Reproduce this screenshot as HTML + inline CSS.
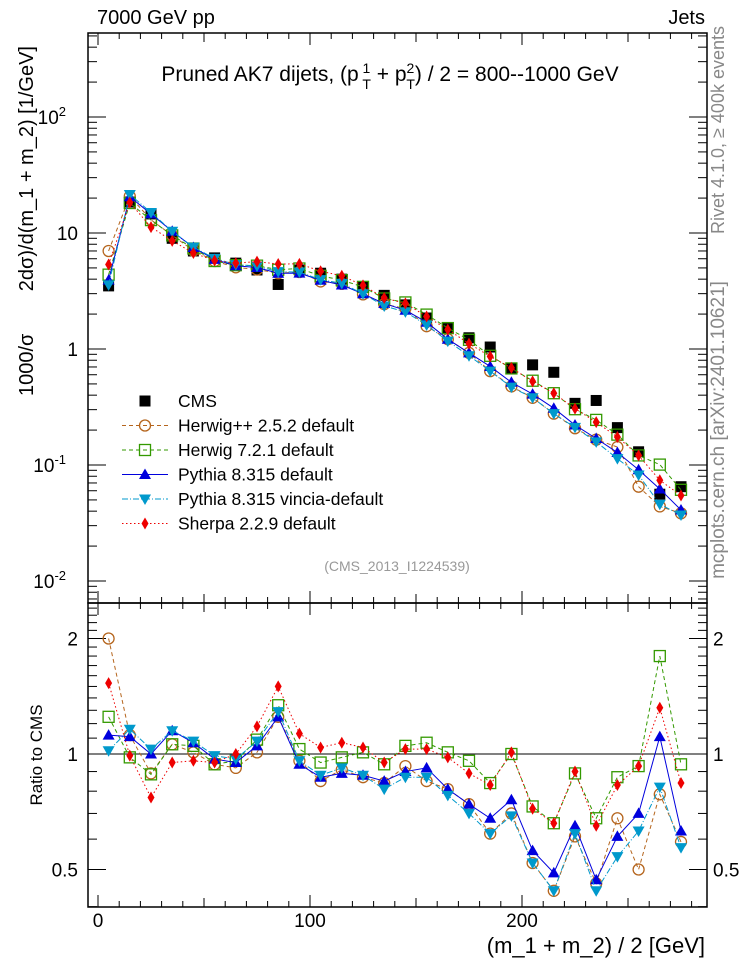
<!DOCTYPE html>
<html><head><meta charset="utf-8"><style>
body{margin:0;background:#fff;}
svg{display:block;font-family:"Liberation Sans",sans-serif;}
</style></head><body>
<svg id="c" width="746" height="972" viewBox="0 0 746 972">
<rect x="0" y="0" width="746" height="972" fill="#fff"/>
<text x="97" y="24" font-size="20">7000 GeV pp</text>
<text x="705" y="24" font-size="20" text-anchor="end">Jets</text>
<text x="390" y="81" font-size="21" text-anchor="middle">Pruned AK7 dijets, (p<tspan dy="-8" font-size="14"> 1</tspan><tspan dy="16" dx="-8" font-size="14">T</tspan><tspan dy="-8"> + p</tspan><tspan dy="-8" font-size="14">2</tspan><tspan dy="16" dx="-8" font-size="14">T</tspan><tspan dy="-8">) / 2 = 800--1000 GeV</tspan></text>
<g>
<text transform="translate(33,396) rotate(-90)" font-size="20" text-anchor="start">1000/σ</text>
<text transform="translate(33,46) rotate(-90)" font-size="20" text-anchor="end">2dσ)/d(m_1 + m_2) [1/GeV]</text>
</g>
<text transform="translate(42,755) rotate(-90)" font-size="17" text-anchor="middle">Ratio to CMS</text>
<text transform="translate(724,130) rotate(-90)" font-size="18" fill="#888" text-anchor="middle">Rivet 4.1.0, ≥ 400k events</text>
<text transform="translate(724,430) rotate(-90)" font-size="19" fill="#888" text-anchor="middle">mcplots.cern.ch [arXiv:2401.10621]</text>
<text x="397" y="571" font-size="14" fill="#999" text-anchor="middle">(CMS_2013_I1224539)</text>
<text x="705" y="953" font-size="22" text-anchor="end">(m_1 + m_2) / 2 [GeV]</text>
<g id="g"></g>
</svg>
<script>
const bins=[5,15,25,35,45,55,65,75,85,95,105,115,125,135,145,155,165,175,185,195,205,215,225,235,245,255,265,275];
const cms=[3.5,18.5,14.6,9.0,7.0,6.1,5.5,4.8,3.6,4.8,4.5,4.0,3.4,2.9,2.4,1.85,1.5,1.25,1.04,0.68,0.73,0.63,0.34,0.36,0.21,0.13,0.056,0.065];
const rHpp=[2.0,1.12,0.89,1.06,1.01,0.94,0.92,1.01,1.25,0.96,0.85,0.91,0.87,0.84,0.93,0.85,0.81,0.74,0.62,0.70,0.52,0.44,0.61,0.46,0.68,0.50,0.785,0.59];
const rH7=[1.25,0.98,0.885,1.06,1.05,0.94,0.96,1.09,1.34,1.03,0.95,0.98,1.01,0.94,1.05,1.07,1.01,0.96,0.84,1.0,0.73,0.66,0.89,0.68,0.87,0.93,1.8,0.94];
const rPy=[1.12,1.11,1.0,1.15,1.07,0.97,0.95,1.05,1.25,0.94,0.87,0.89,0.88,0.85,0.90,0.92,0.81,0.74,0.68,0.76,0.56,0.49,0.65,0.47,0.61,0.70,1.11,0.63];
const rVi=[1.02,1.16,1.03,1.15,1.08,0.99,0.97,1.08,1.29,0.96,0.88,0.92,0.88,0.81,0.87,0.87,0.78,0.70,0.62,0.69,0.52,0.44,0.62,0.44,0.54,0.63,0.82,0.57];
const rSh=[1.53,0.99,0.77,0.95,0.96,0.95,1.0,1.18,1.50,1.13,1.04,1.07,1.04,0.95,1.03,1.03,0.98,0.89,0.83,1.01,0.72,0.66,0.90,0.65,0.83,0.93,1.32,0.84];
const xTicks=[0,100,200];
const mainTicks=[-2,-1,0,1,2];
const ratioTicks=[0.5,1,2];

const NS="http://www.w3.org/2000/svg";
const g=document.getElementById('g');
const L=88,R=707,T=33,MB=603,RB=907;
const xs=v=>98+v*2.12;
const ym=v=>349-116*Math.log10(v);
const yr=v=>754-115.5*Math.log2(v);
function mk(tag,at,parent){const e=document.createElementNS(NS,tag);for(const k in at)e.setAttribute(k,at[k]);(parent||g).appendChild(e);return e;}

const f1=mk('rect',{x:L,y:T,width:R-L,height:MB-T,fill:'none',stroke:'#000','stroke-width':1.5});


const f2=mk('rect',{x:L,y:MB,width:R-L,height:RB-MB,fill:'none',stroke:'#000','stroke-width':1.5});


const one=mk('line',{x1:L,x2:R,y1:yr(1),y2:yr(1),stroke:'#000','stroke-width':1});



for(let v=0;v<=280;v+=10){
  const x=xs(v);const big=v%100===0;const mid=v%50===0;const len=big?12:(mid?9:6);
  for(const [yb,dir] of [[MB,-1],[T,1],[RB,-1],[MB,1]]){
    mk('line',{x1:x,x2:x,y1:yb,y2:yb+dir*len,stroke:'#000'});
  }
}
xTicks.forEach(v=>{const t=mk('text',{x:xs(v),y:927,'font-size':19,'text-anchor':'middle'});t.textContent=v;

});
for(let d=-3;d<=2;d++){for(let m=1;m<10;m++){const v=m*Math.pow(10,d);const y=ym(v);if(y<T||y>MB)continue;
  const len=m===1?18:9;mk('line',{x1:L,x2:L+len,y1:y,y2:y,stroke:'#000'});mk('line',{x1:R,x2:R-len,y1:y,y2:y,stroke:'#000'});}}
mainTicks.forEach(p=>{const y=ym(Math.pow(10,p));let t;
  if(p===0){t=mk('text',{x:78,y:y+7,'font-size':19,'text-anchor':'end'});t.textContent='1';}
  else if(p===1){t=mk('text',{x:78,y:y+7,'font-size':19,'text-anchor':'end'});t.textContent='10';}
  else{t=mk('text',{x:78,y:y+7,'font-size':19,'text-anchor':'end'});t.innerHTML='10<tspan dy="-8" font-size="13">'+p+'</tspan>';
    t.setAttribute('x',66);}
  
  });
for(let v=0.4;v<=2.45;v+=0.1){const y=yr(v);if(y<MB||y>RB)continue;const big=Math.abs(v-0.5)<1e-6||Math.abs(v-1)<1e-6||Math.abs(v-2)<1e-6;
  const len=big?18:9;mk('line',{x1:L,x2:L+len,y1:y,y2:y,stroke:'#000'});mk('line',{x1:R,x2:R-len,y1:y,y2:y,stroke:'#000'});}
ratioTicks.forEach(v=>{const y=yr(v);
  const t=mk('text',{x:78,y:y+7,'font-size':19,'text-anchor':'end'});t.textContent=v;
  
  
  const t2=mk('text',{x:713,y:y+7,'font-size':19});t2.textContent=v;
  
  });

function marker(type,x,y,col,parent){
  if(type==='circle')return mk('circle',{cx:x,cy:y,r:5.5,fill:'none',stroke:col,'stroke-width':1.3},parent);
  if(type==='square')return mk('rect',{x:x-5.5,y:y-5.5,width:11,height:11,fill:'none',stroke:col,'stroke-width':1.3},parent);
  if(type==='up')return mk('path',{d:`M${x},${y-6}L${x+6},${y+4.5}L${x-6},${y+4.5}Z`,fill:col},parent);
  if(type==='down')return mk('path',{d:`M${x},${y+6}L${x+6},${y-4.5}L${x-6},${y-4.5}Z`,fill:col},parent);
  if(type==='diamond')return mk('path',{d:`M${x},${y-6}L${x+3.5},${y}L${x},${y+6}L${x-3.5},${y}Z`,fill:col},parent);
  if(type==='fsquare')return mk('rect',{x:x-5.5,y:y-5.5,width:11,height:11,fill:col},parent);
}
const series=[
 {name:'herwigpp',lab:'Herwig++ 2.5.2 default',r:rHpp,col:'#b5651d',dash:'4,3',m:'circle'},
 {name:'herwig7',lab:'Herwig 7.2.1 default',r:rH7,col:'#339900',dash:'4,3',m:'square'},
 {name:'pythia',lab:'Pythia 8.315 default',r:rPy,col:'#0000dd',dash:'',m:'up'},
 {name:'vincia',lab:'Pythia 8.315 vincia-default',r:rVi,col:'#0099cc',dash:'6,2,1,2',m:'down'},
 {name:'sherpa',lab:'Sherpa 2.2.9 default',r:rSh,col:'#ee0000',dash:'1.5,2.5',m:'diamond'}
];
const cg=mk('g',{});


bins.forEach((b,i)=>{const p=marker('fsquare',xs(b),ym(cms[i]),'#000',cg);
  
  });
series.forEach(s=>{
  const sg=mk('g',{});
  
  
  const pm=bins.map((b,i)=>xs(b)+','+ym(cms[i]*s.r[i])).join(' ');
  mk('polyline',{points:pm,fill:'none',stroke:s.col,'stroke-width':1,'stroke-dasharray':s.dash},sg);
  const pr=bins.map((b,i)=>xs(b)+','+yr(s.r[i])).join(' ');
  mk('polyline',{points:pr,fill:'none',stroke:s.col,'stroke-width':1,'stroke-dasharray':s.dash},sg);
  bins.forEach((b,i)=>{
    const a=marker(s.m,xs(b),ym(cms[i]*s.r[i]),s.col,sg);
    
    
    const c=marker(s.m,xs(b),yr(s.r[i]),s.col,sg);
    
    
  });
});
const lg=mk('g',{});


let ly=401;
const e0=mk('g',{},lg);


marker('fsquare',145,ly,'#000',e0);
const t0=mk('text',{x:178,y:ly+6,'font-size':17.5},e0);t0.textContent='CMS';
series.forEach((s,k)=>{const y=ly+24.5*(k+1);
  const e=mk('g',{},lg);
  
  
  mk('line',{x1:122,x2:168,y1:y,y2:y,stroke:s.col,'stroke-dasharray':s.dash},e);
  marker(s.m,145,y,s.col,e);
  const t=mk('text',{x:178,y:y+6,'font-size':17.5},e);t.textContent=s.lab;});
</script>
</body></html>
